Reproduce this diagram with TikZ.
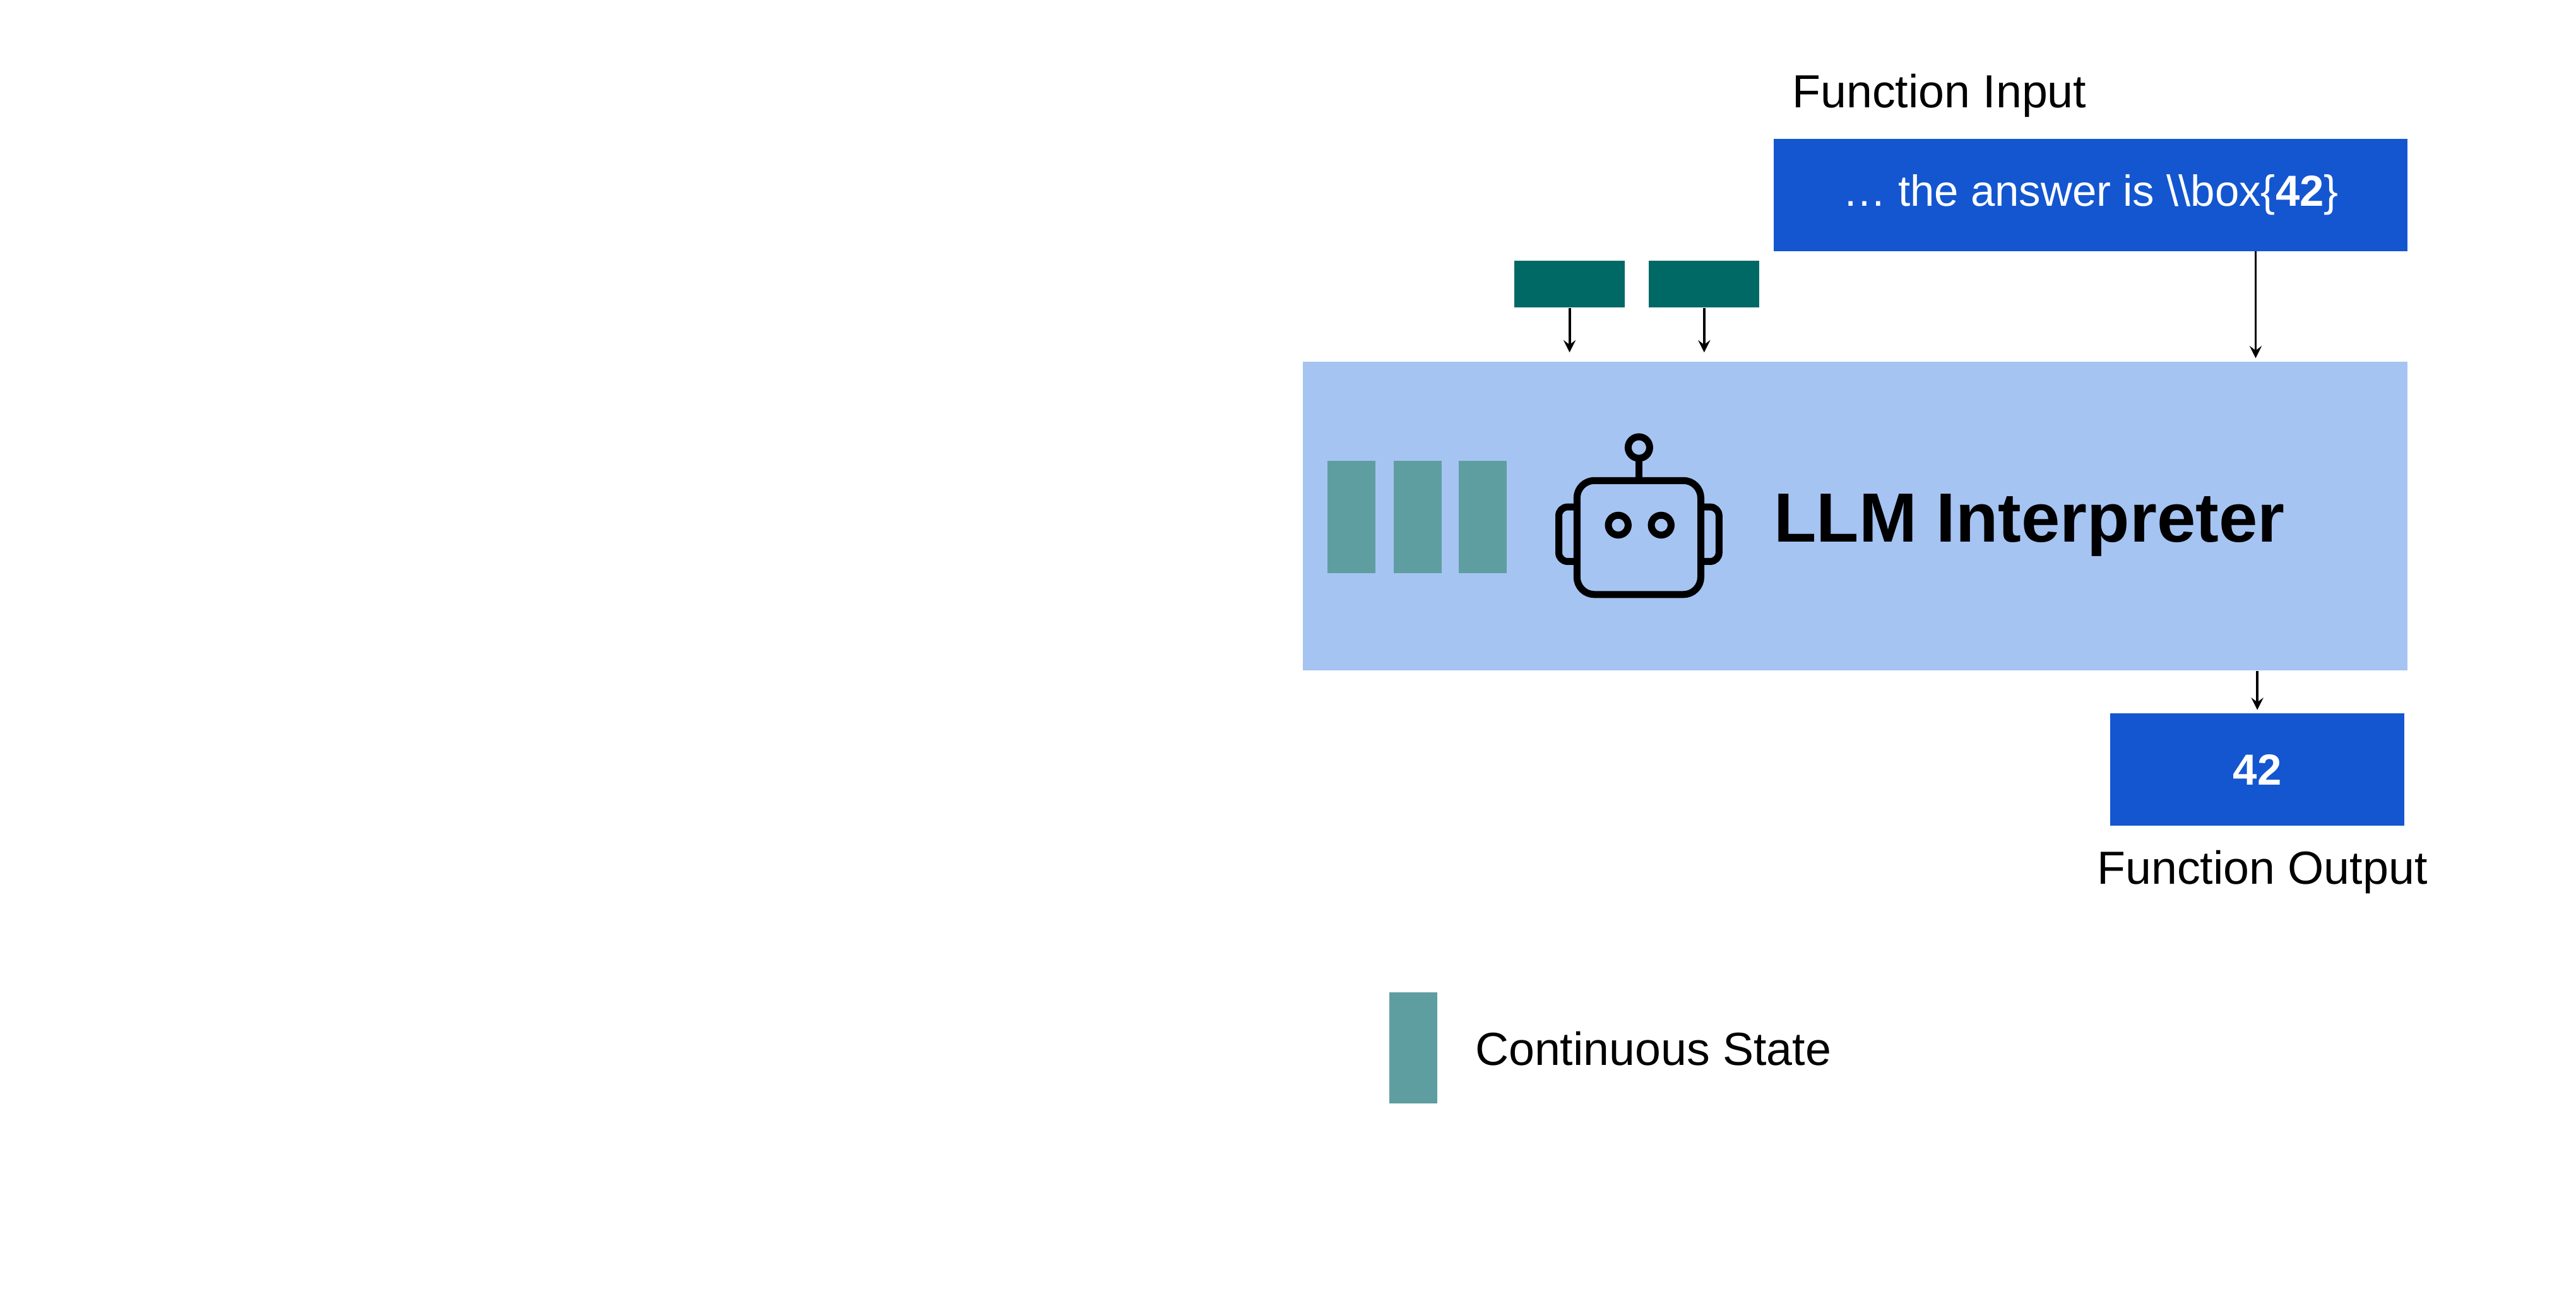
\documentclass[tikz,border=0pt]{standalone}
\usepackage{fontspec}
\setmainfont{Liberation Sans}
\usetikzlibrary{arrows, positioning}
\definecolor{fnblue}{RGB}{19, 86, 208}
\definecolor{llmbg}{RGB}{166, 196, 242}
\definecolor{token}{RGB}{0, 105, 102}
\definecolor{state}{RGB}{95, 158, 160}

\begin{document}
\begin{tikzpicture}[
    x=0.02cm, y=-0.02cm,
    fnbox/.style={rectangle, fill=fnblue, text=white, minimum height=1.36cm, font=\fontsize{15}{18}\selectfont, inner sep=0pt},
    tok/.style={rectangle, fill=token, minimum width=1.34cm, minimum height=0.56cm, inner sep=0pt},
    st/.style={rectangle, fill=state, minimum width=0.58cm, minimum height=1.36cm, inner sep=0pt},
    lbl/.style={font=\fontsize{16}{19}\selectfont, inner sep=0pt},
    arrow/.style={-stealth, line width=0.85pt, shorten >=3pt},
    bot/.style={line width=2.4pt, line join=round}
]
    \useasboundingbox (0,0) rectangle (1560,795);
    \node[rectangle, fill=llmbg, minimum width=13.38cm, minimum height=3.74cm, inner sep=0pt] (llm) at (1123.5,312.5) {};
    \node[fnbox, minimum width=7.68cm] (fin) at (1266,118) {\dots{} the answer is \textbackslash\textbackslash box\{\textbf{42}\}};
    \node[lbl, anchor=west] (finlbl) at (1085,58) {Function Input};
    \node[tok] (t1) at (950.5,172) {};
    \node[tok] (t2) at (1032,172) {};
    \node[st] (s1) at (818.5,313) {};
    \node[st] (s2) at (858.5,313) {};
    \node[st] (s3) at (898,313) {};
    \node[font=\fontsize{24}{28}\selectfont\bfseries, anchor=west, inner sep=0pt] (llmlbl) at (1074,318) {LLM Interpreter};
    \node[fnbox, minimum width=3.56cm, font=\fontsize{15}{18}\selectfont\bfseries] (fout) at (1367,466) {42};
    \node[lbl] (foutlbl) at (1370,528) {Function Output};
    \node[st, minimum height=1.34cm] (leg) at (856,634.5) {};
    \node[lbl, anchor=west] (leglbl) at (893,635) {Continuous State};

    % robot
    \draw[bot, rounded corners=6pt] (955,291) rectangle (1030,360);
    \draw[bot, rounded corners=3pt] (955,307) -- (944,307) -- (944,340) -- (955,340);
    \draw[bot, rounded corners=3pt] (1030,307) -- (1041,307) -- (1041,340) -- (1030,340);
    \draw[bot] (992.5,291) -- (992.5,278);
    \draw[bot] (992.5,271) circle (6.5);
    \draw[bot] (980,318) circle (6);
    \draw[bot] (1006,318) circle (6);

    \coordinate (finx) at (1366,152);
    \draw[arrow] (t1) -- (t1 |- llm.north);
    \draw[arrow] (t2) -- (t2 |- llm.north);
    \draw[arrow, shorten >=1pt] (finx) -- (finx |- llm.north);
    \draw[arrow, shorten >=1pt] (llm.south -| fout.north) -- (fout.north);
\end{tikzpicture}
\end{document}
